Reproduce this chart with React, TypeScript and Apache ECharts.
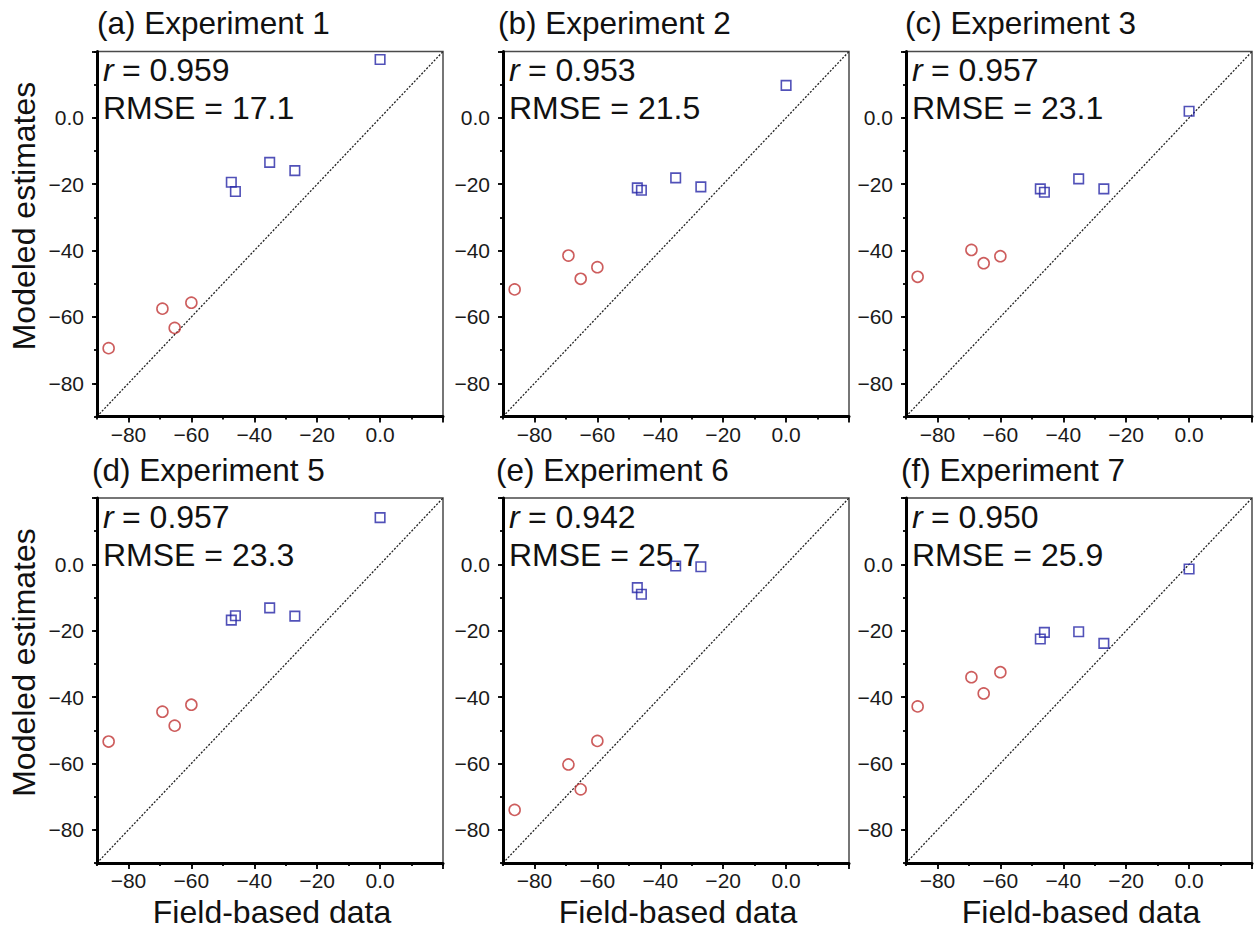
import React, { useEffect, useRef } from "react";
import * as echarts from "echarts";

// ---- data ----
const panelTitles = [
  "(a) Experiment 1",
  "(b) Experiment 2",
  "(c) Experiment 3",
  "(d) Experiment 5",
  "(e) Experiment 6",
  "(f) Experiment 7",
];
const rValues = ["0.959", "0.953", "0.957", "0.957", "0.942", "0.950"];
const rmseValues = ["17.1", "21.5", "23.1", "23.3", "25.7", "25.9"];

// field-based x values (shared by all experiments)
const xCircle = [-86.3, -69.2, -65.3, -60.0];
const xSquare = [-47.3, -46.0, -35.1, -27.1, 0.0];

// modeled estimates per experiment
const yCircle = [
  [-69.4, -57.5, -63.3, -55.7],
  [-51.7, -41.5, -48.5, -45.0],
  [-47.9, -39.8, -43.8, -41.7],
  [-53.4, -44.4, -48.6, -42.3],
  [-74.0, -60.3, -67.8, -53.2],
  [-42.8, -34.0, -38.9, -32.5],
];
const ySquare: (number | null)[][] = [
  [-19.4, -22.2, -13.4, -15.9, 17.6],
  [-21.1, -21.8, -18.1, -20.8, 9.8],
  [-21.4, -22.4, -18.4, -21.4, 2.0],
  [-16.8, -15.5, -13.1, -15.6, 14.1],
  [-7.0, -9.0, -0.5, -0.7, null],
  [-22.5, -20.5, -20.3, -23.8, -1.4],
];

const axisMin = -90;
const axisMax = 20;
const majorTicks = [-80, -60, -40, -20, 0, 20];
const tickLabels = [-80, -60, -40, -20, 0];
const minorInterval = 10;
const xAxisTitle = "Field-based data";
const yAxisTitle = "Modeled estimates";

// ---- layout ----
const FONT = "Liberation Sans, Arial, sans-serif";
const colLefts = [97, 503, 906];
const rowTops = [51.5, 498];
const GW = 346;
const GH = 365;
const titleDx = [0, -5, -1, -5, -7, -5];
const TEXT = "#111";
const RED = "#c03434";
const BLUE = "#2626a6";
const TICK_FS = 21;

const fmt = (v: number) =>
  tickLabels.indexOf(v) < 0 ? "" : v === 0 ? "0.0" : String(v).replace("-", "\u2212");

export default function App() {
  const ref = useRef<HTMLDivElement>(null);
  useEffect(() => {
    if (!ref.current) return;
    const chart = echarts.init(ref.current, null, { renderer: "svg" });

    const grids: any[] = [];
    const xAxes: any[] = [];
    const yAxes: any[] = [];
    const series: any[] = [];
    const graphics: any[] = [];

    panelTitles.forEach((title, i) => {
      const left = colLefts[i % 3];
      const top = rowTops[Math.floor(i / 3)];
      grids.push({
        left,
        top,
        width: GW,
        height: GH,
        show: true,
        z: 0,
        borderColor: "#4a4a4a",
        borderWidth: 1.5,
        backgroundColor: "transparent",
      });
      const mainAxis = (pos: string, isY: boolean) => ({
        type: "value",
        gridIndex: i,
        position: pos,
        min: axisMin,
        max: axisMax,
        interval: minorInterval,
        z: 5,
        axisLine: { show: true, onZero: false, lineStyle: { color: "#000", width: 3 } },
        axisTick: {
          show: true,
          customValues: majorTicks,
          length: isY ? 5 : 6,
          lineStyle: { color: "#000", width: 1.8 },
        },
        axisLabel: {
          show: true,
          formatter: fmt,
          hideOverlap: false,
          showMinLabel: true,
          showMaxLabel: true,
          textStyle: { fontSize: TICK_FS, fontFamily: FONT, color: "#1a1a1a" },
          fontFamily: FONT,
          fontSize: TICK_FS,
          color: "#1a1a1a",
          margin: isY ? 13 : 7,
        },
        splitLine: { show: false },
      });
      const minorAxis = (pos: string) => ({
        type: "value",
        gridIndex: i,
        position: pos,
        min: axisMin,
        max: axisMax,
        interval: minorInterval,
        z: 5,
        axisLine: { show: false, onZero: false },
        axisTick: { show: true, length: 3, lineStyle: { color: "#000", width: 1.8 } },
        axisLabel: { show: false },
        splitLine: { show: false },
      });
      xAxes.push(mainAxis("bottom", false), minorAxis("bottom"));
      yAxes.push(mainAxis("left", true), minorAxis("left"));

      series.push({
        type: "line",
        xAxisIndex: 2 * i,
        yAxisIndex: 2 * i,
        data: [
          [axisMin, axisMin],
          [axisMax, axisMax],
        ],
        symbol: "none",
        silent: true,
        lineStyle: { color: "#222", width: 1.3, type: [2, 1.6] },
        z: 1,
      });
      series.push({
        type: "scatter",
        xAxisIndex: 2 * i,
        yAxisIndex: 2 * i,
        data: xCircle.map((x, k) => [x, yCircle[i][k]]),
        symbol: "circle",
        symbolSize: 11,
        itemStyle: { color: "rgba(255,255,255,0)", borderColor: RED, borderWidth: 1.6 },
        z: 2,
      });
      series.push({
        type: "scatter",
        xAxisIndex: 2 * i,
        yAxisIndex: 2 * i,
        data: xSquare
          .map((x, k) => [x, ySquare[i][k]])
          .filter((p) => p[1] !== null),
        symbol: "rect",
        symbolSize: 9.5,
        itemStyle: { color: "rgba(255,255,255,0)", borderColor: BLUE, borderWidth: 1.6 },
        z: 2,
      });

      // panel title
      graphics.push({
        type: "text",
        x: left + titleDx[i],
        y: top - 28.5,
        style: {
          text: title,
          fontFamily: FONT,
          fontSize: 31.5,
          fill: TEXT,
          align: "left",
          verticalAlign: "middle",
        },
      });
      // r line
      graphics.push({
        type: "text",
        x: left + 6,
        y: top + 18.5,
        style: {
          text: "r",
          fontFamily: FONT,
          fontStyle: "italic",
          fontSize: 32,
          fill: TEXT,
          align: "left",
          verticalAlign: "middle",
        },
      });
      graphics.push({
        type: "text",
        x: left + 25,
        y: top + 18.5,
        style: {
          text: "= " + rValues[i],
          fontFamily: FONT,
          fontSize: 32,
          fill: TEXT,
          align: "left",
          verticalAlign: "middle",
        },
      });
      graphics.push({
        type: "text",
        x: left + 6,
        y: top + 56.5,
        style: {
          text: "RMSE = " + rmseValues[i],
          fontFamily: FONT,
          fontSize: 32,
          fill: TEXT,
          align: "left",
          verticalAlign: "middle",
        },
      });
      // axis titles
      if (i % 3 === 0) {
        graphics.push({
          type: "text",
          x: 24,
          y: top + GH / 2 - 18,
          rotation: Math.PI / 2,
          style: {
            text: yAxisTitle,
            fontFamily: FONT,
            fontSize: 32,
            fill: TEXT,
            align: "center",
            verticalAlign: "middle",
          },
        });
      }
      if (i >= 3) {
        graphics.push({
          type: "text",
          x: left + GW / 2 + 2,
          y: top + GH + 48.5,
          style: {
            text: xAxisTitle,
            fontFamily: FONT,
            fontSize: 32,
            fill: TEXT,
            align: "center",
            verticalAlign: "middle",
          },
        });
      }
    });

    chart.setOption({
      animation: false,
      backgroundColor: "#fff",
      textStyle: { fontFamily: FONT },
      grid: grids,
      xAxis: xAxes,
      yAxis: yAxes,
      series,
      graphic: graphics,
    });
    return () => chart.dispose();
  }, []);

  return (
    <div
      ref={ref}
      style={{ position: "fixed", left: 0, top: 0, width: 1255, height: 930 }}
    />
  );
}
